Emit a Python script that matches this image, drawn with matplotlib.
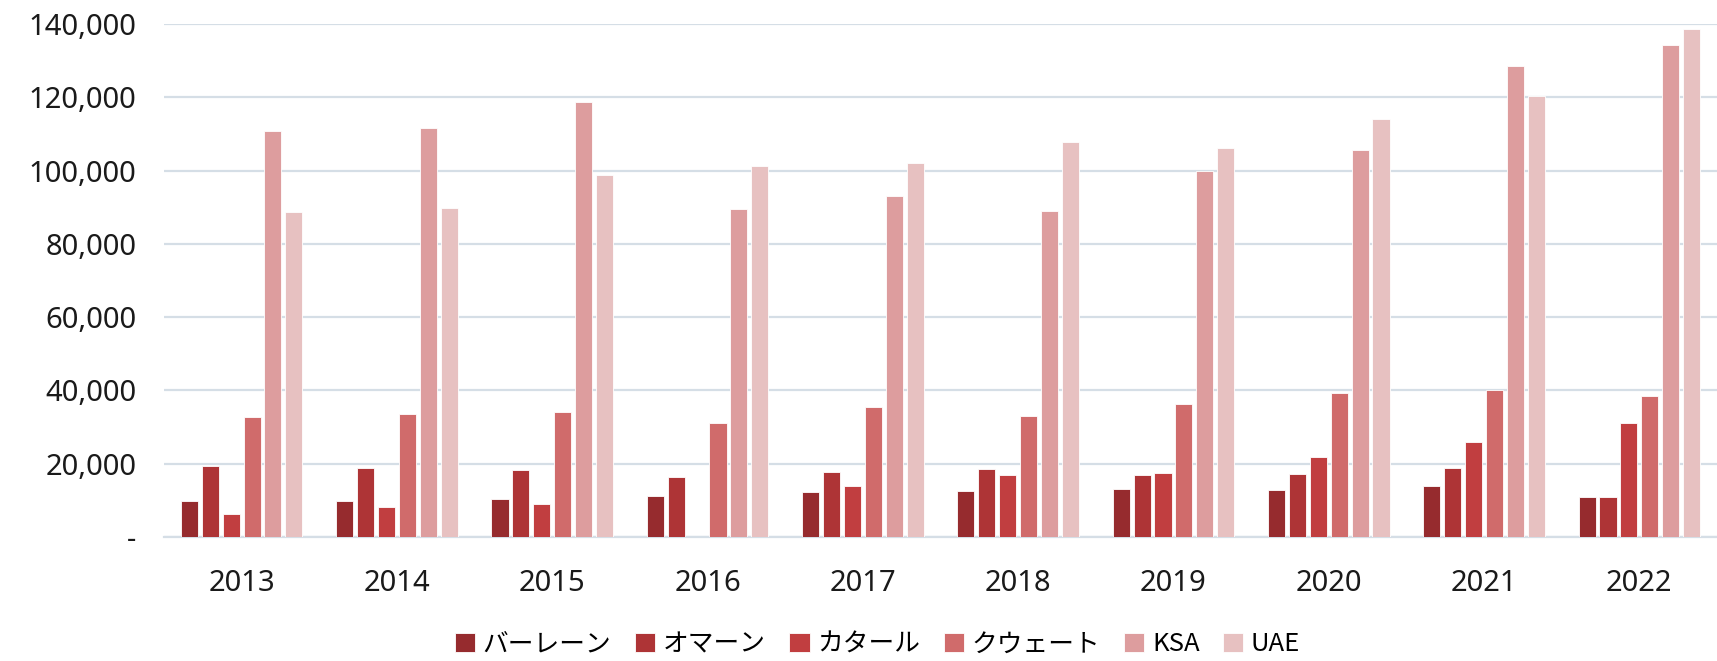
import matplotlib
matplotlib.use("Agg")
import matplotlib.pyplot as plt
import numpy as np

plt.rcParams['font.family'] = ['Noto Sans', 'Noto Sans CJK JP', 'DejaVu Sans']

years = ['2013', '2014', '2015', '2016', '2017', '2018', '2019', '2020', '2021', '2022']
countries = ['バーレーン', 'オマーン', 'カタール', 'クウェート', 'KSA', 'UAE']

bahrain = [9800, 9800, 10400, 11200, 12300, 12500, 13100, 12900, 13900, 10800]
oman = [19400, 18800, 18200, 16300, 17700, 18500, 16900, 17300, 18700, 10800]
qatar = [6300, 8300, 9000, 0, 13900, 16900, 17500, 21700, 25800, 31200]
kuwait = [32800, 33700, 34200, 31200, 35500, 33000, 36300, 39300, 40200, 38500]
ksa = [110700, 111600, 118700, 89500, 93000, 89000, 99900, 105600, 128500, 134200]
uae = [88800, 89800, 98800, 101200, 102100, 107900, 106200, 114000, 120400, 138600]

series = [bahrain, oman, qatar, kuwait, ksa, uae]
colors = ['#962B2E', '#AE3436', '#C13E40', '#D06B6B', '#DD9D9E', '#E7C1C1']

fig = plt.figure(figsize=(17.17, 6.61), dpi=100)
ax = fig.add_axes([0.0955, 0.1876, 0.9045, 0.776])

x = np.arange(len(years))
step = 0.1345
width = 0.11
for i, (vals, c) in enumerate(zip(series, colors)):
    ax.bar(x + (i - 2.5) * step, vals, width, color=c, label=countries[i],
           edgecolor='#FFFFFF', linewidth=0.6, zorder=3)

ax.set_xlim(-0.5, 9.5)
ax.set_ylim(0, 140000)
ax.set_yticks(range(0, 140001, 20000))
ax.set_yticklabels(['-'] + [f'{v:,}' for v in range(20000, 140001, 20000)])
ax.set_xticks(x)
ax.set_xticklabels(years)
ax.yaxis.grid(True, color='#D5DEE6', linewidth=1.6, zorder=0)
ax.set_axisbelow(True)
for s in ['top', 'right', 'left']:
    ax.spines[s].set_visible(False)
ax.spines['bottom'].set_color('#D5DEE6')
ax.spines['bottom'].set_linewidth(1.6)
ax.tick_params(axis='both', length=0, labelsize=21, colors='#1A1A1A')
ax.tick_params(axis='y', pad=20)
ax.tick_params(axis='x', pad=23)

fig.legend(loc='center', bbox_to_anchor=(0.511, 0.025), ncol=6, frameon=False,
           handlelength=0.8, handleheight=0.8, handletextpad=0.3,
           columnspacing=0.9, prop={'family': ['Noto Sans CJK JP', 'Noto Sans'], 'size': 18.5})

fig.savefig('out.png', dpi=100)
